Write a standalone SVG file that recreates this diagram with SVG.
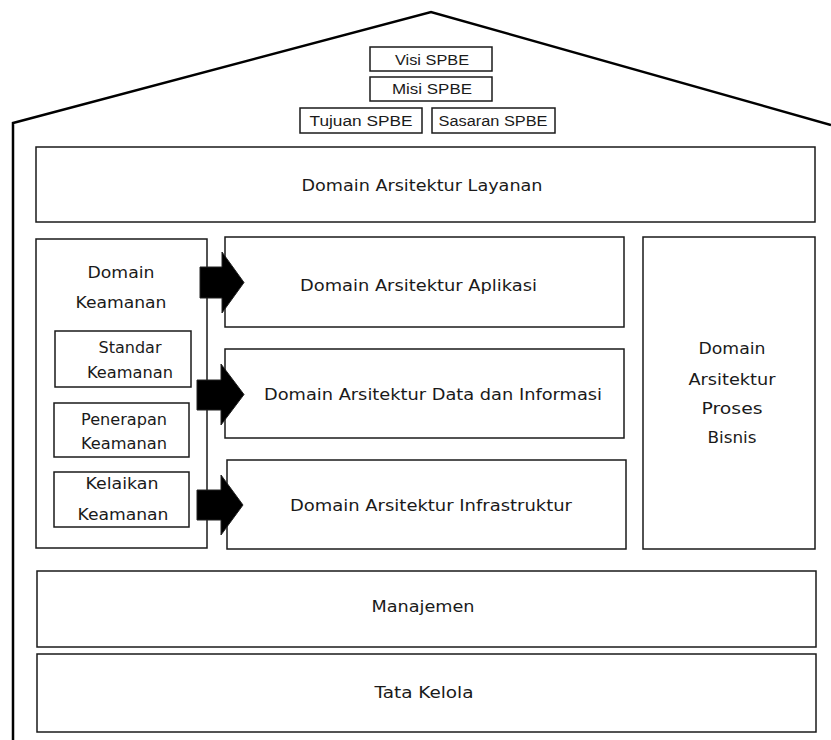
<svg xmlns="http://www.w3.org/2000/svg" width="831" height="740" viewBox="0 0 831 740">
<style>
.box{fill:#fff;stroke:#1a1a1a;stroke-width:1.5}
.t{font-family:"DejaVu Sans",Verdana,sans-serif;font-size:16px;fill:#1a1a1a;text-anchor:middle;dominant-baseline:central}
.s{font-family:"Liberation Sans",Arial,sans-serif;font-size:14px;fill:#1a1a1a;text-anchor:middle;dominant-baseline:central}
.house{fill:none;stroke:#000;stroke-width:2.5;stroke-linejoin:miter}
.arrow{fill:#000;stroke:#222;stroke-width:1}
</style>
<rect width="831" height="740" fill="#fff"/>
<g id="house">
<polyline class="house" points="13,740 13,123 431,12 831,125"/>
</g>
<g id="visi"><rect class="box" x="370" y="47" width="122" height="24"/><text class="s" x="432" y="60" textLength="74" lengthAdjust="spacingAndGlyphs">Visi SPBE</text></g>
<g id="misi"><rect class="box" x="370" y="77" width="122" height="24"/><text class="s" x="432" y="89" textLength="80" lengthAdjust="spacingAndGlyphs">Misi SPBE</text></g>
<g id="tujuan"><rect class="box" x="300" y="108" width="122" height="25"/><text class="s" x="361" y="121" textLength="103" lengthAdjust="spacingAndGlyphs">Tujuan SPBE</text></g>
<g id="sasaran"><rect class="box" x="432" y="108" width="123" height="25"/><text class="s" x="493" y="121" textLength="109" lengthAdjust="spacingAndGlyphs">Sasaran SPBE</text></g>
<g id="layanan"><rect class="box" x="36" y="147" width="779" height="75"/><text class="t" x="422" y="185" textLength="241" lengthAdjust="spacingAndGlyphs">Domain Arsitektur Layanan</text></g>
<g id="keamanan"><rect class="box" x="36" y="239" width="171" height="309"/>
<text class="t" x="121" y="272" textLength="67" lengthAdjust="spacingAndGlyphs">Domain</text>
<text class="t" x="121" y="302" textLength="91" lengthAdjust="spacingAndGlyphs">Keamanan</text></g>
<g id="standar"><rect class="box" x="55" y="331" width="136" height="56"/>
<text class="t" x="130" y="347" textLength="63" lengthAdjust="spacingAndGlyphs">Standar</text>
<text class="t" x="130" y="372" textLength="86" lengthAdjust="spacingAndGlyphs">Keamanan</text></g>
<g id="penerapan"><rect class="box" x="54" y="403" width="135" height="54"/>
<text class="t" x="124" y="419" textLength="86" lengthAdjust="spacingAndGlyphs">Penerapan</text>
<text class="t" x="124" y="443" textLength="86" lengthAdjust="spacingAndGlyphs">Keamanan</text></g>
<g id="kelaikan"><rect class="box" x="54" y="472" width="135" height="55"/>
<text class="t" x="122" y="483" textLength="73" lengthAdjust="spacingAndGlyphs">Kelaikan</text>
<text class="t" x="123" y="514" textLength="91" lengthAdjust="spacingAndGlyphs">Keamanan</text></g>
<g id="aplikasi"><rect class="box" x="225" y="237" width="399" height="90"/><text class="t" x="418.5" y="285" textLength="237" lengthAdjust="spacingAndGlyphs">Domain Arsitektur Aplikasi</text></g>
<g id="data"><rect class="box" x="225" y="349" width="399" height="89"/><text class="t" x="433" y="394" textLength="338" lengthAdjust="spacingAndGlyphs">Domain Arsitektur Data dan Informasi</text></g>
<g id="infrastruktur"><rect class="box" x="227" y="460" width="399" height="89"/><text class="t" x="431" y="505" textLength="282" lengthAdjust="spacingAndGlyphs">Domain Arsitektur Infrastruktur</text></g>
<g id="proses"><rect class="box" x="643" y="237" width="172" height="312"/>
<text class="t" x="732" y="348" textLength="67" lengthAdjust="spacingAndGlyphs">Domain</text>
<text class="t" x="732" y="379" textLength="87" lengthAdjust="spacingAndGlyphs">Arsitektur</text>
<text class="t" x="732" y="408" textLength="61" lengthAdjust="spacingAndGlyphs">Proses</text>
<text class="t" x="732" y="437" textLength="49" lengthAdjust="spacingAndGlyphs">Bisnis</text></g>
<g id="manajemen"><rect class="box" x="37" y="571" width="779" height="76"/><text class="t" x="423" y="606" textLength="103" lengthAdjust="spacingAndGlyphs">Manajemen</text></g>
<g id="tatakelola"><rect class="box" x="37" y="654" width="779" height="78"/><text class="t" x="424" y="692" textLength="99" lengthAdjust="spacingAndGlyphs">Tata Kelola</text></g>
<g id="connectors">
<polygon class="arrow" points="200,267 222,267 222,252 244,282.5 222,313 222,298 200,298"/>
<polygon class="arrow" points="197,380 221,380 221,364 244,394.5 221,425 221,410 197,410"/>
<polygon class="arrow" points="197,490 221,490 221,475 243,505 221,535 221,520 197,520"/>
</g>
</svg>
